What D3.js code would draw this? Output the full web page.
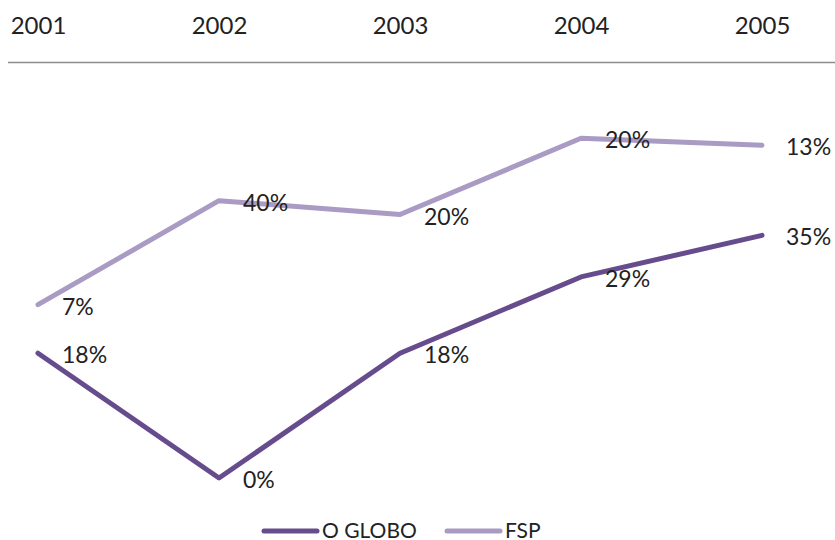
<!DOCTYPE html>
<html>
<head>
<meta charset="utf-8">
<title>O GLOBO x FSP</title>
<style>
  body { margin: 0; background: #fff; }
  text { font-family: Lato, "Open Sans", sans-serif; fill: #222; }
</style>
<script src="https://d3js.org/d3.v7.min.js"></script>
</head>
<body>
<svg id="chart" width="835" height="540"></svg>
<script>
var years = ["2001", "2002", "2003", "2004", "2005"];
var oGlobo = [18, 0, 18, 29, 35];
var fsp = [7, 40, 20, 20, 13];
var seriesNames = ["O GLOBO", "FSP"];
var colors = ["#664c8c", "#a99bc3"];

var svg = d3.select("#chart");

var x = d3.scalePoint().domain(years).range([38, 762]);
var y = d3.scaleLinear().domain([0, 60]).range([478, 62]);

// stacked line chart: FSP sits on top of O GLOBO
var stacked = [
  oGlobo.map(function (v, i) { return { year: years[i], top: v, label: v }; }),
  fsp.map(function (v, i) { return { year: years[i], top: oGlobo[i] + v, label: v }; })
];

// axis on top
var xAxis = d3.axisTop(x).tickSize(0).tickPadding(0);
var gx = svg.append("g").attr("transform", "translate(0,62)").call(xAxis);
gx.select(".domain").remove();
gx.selectAll("text")
  .attr("y", -28)
  .style("font-size", "24px")
  .style("font-family", "Lato, sans-serif")
  .attr("fill", "#222");
svg.append("line")
  .attr("x1", 8).attr("x2", 835)
  .attr("y1", 62.5).attr("y2", 62.5)
  .attr("stroke", "#8c8c8c").attr("stroke-width", 1.5);

var line = d3.line()
  .x(function (d) { return x(d.year); })
  .y(function (d) { return y(d.top); });

svg.selectAll(".series")
  .data(stacked)
  .join("path")
  .attr("class", "series")
  .attr("fill", "none")
  .attr("stroke", function (d, i) { return colors[i]; })
  .attr("stroke-width", 5)
  .attr("stroke-linejoin", "round")
  .attr("stroke-linecap", "round")
  .attr("d", line);

stacked.forEach(function (s) {
  svg.selectAll(null)
    .data(s)
    .join("text")
    .attr("x", function (d) { return x(d.year) + 24; })
    .attr("y", function (d) { return y(d.top) + 1; })
    .attr("dominant-baseline", "central")
    .style("font-size", "23px")
    .text(function (d) { return d.label + "%"; });
});

// legend
var legend = svg.append("g").attr("transform", "translate(264,529)");
var offsets = [0, 183];
seriesNames.forEach(function (n, i) {
  var g = legend.append("g").attr("transform", "translate(" + offsets[i] + ",0)");
  g.append("line")
    .attr("x1", 0).attr("x2", 53)
    .attr("y1", 2).attr("y2", 2)
    .attr("stroke", colors[i]).attr("stroke-width", 5)
    .attr("stroke-linecap", "round");
  g.append("text")
    .attr("x", 58).attr("y", 0)
    .attr("dominant-baseline", "central")
    .style("font-size", "21px")
    .text(n);
});
</script>
</body>
</html>
